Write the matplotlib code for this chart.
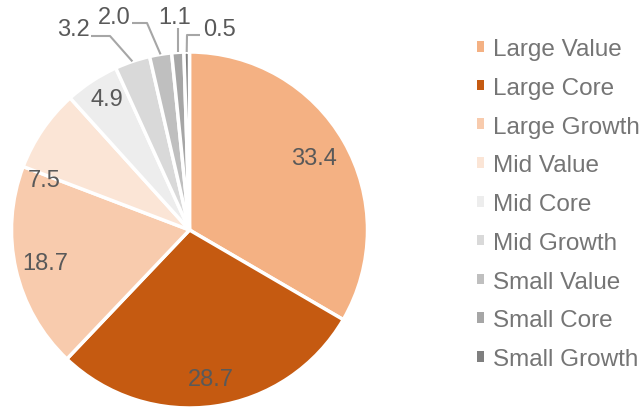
import numpy as np
import matplotlib.pyplot as plt
from matplotlib.patches import Patch

# data
categories = ['Large Value', 'Large Core', 'Large Growth', 'Mid Value', 'Mid Core',
              'Mid Growth', 'Small Value', 'Small Core', 'Small Growth']
values = [33.4, 28.7, 18.7, 7.5, 4.9, 3.2, 2.0, 1.1, 0.5]
colors = ['#F4B183', '#C55A11', '#F8CBAD', '#FBE5D6', '#EDEDED',
          '#D9D9D9', '#BFBFBF', '#A6A6A6', '#7F7F7F']

plt.rcParams['font.family'] = ['Liberation Sans', 'DejaVu Sans']

fig = plt.figure(figsize=(6.44, 4.10), dpi=100)
ax = fig.add_axes([0, 0, 1, 1])

cx, cy, R = 189.5, 179.0, 178.0
wedges, _ = ax.pie(values, colors=colors, startangle=90, counterclock=False,
                   center=(cx, cy), radius=R, frame=True,
                   wedgeprops=dict(edgecolor='white', linewidth=2.5))
ax.set_xlim(0, 644)
ax.set_ylim(0, 410)
ax.set_aspect('equal')
ax.axis('off')

# label placement: inside for big slices (radius fraction, angle shift)
inside = {0: (0.81, 0), 1: (0.845, 0), 2: (0.83, 0), 3: (0.86, 15.5), 4: (0.87, -1)}
# outside labels: (label x, label y, elbow x, elbow y) in axes units
outside = {5: (73, 380, 110, 373), 6: (114, 392, 147, 386),
           7: (175, 392, 179, 381), 8: (219, 380, 187, 374)}

for i, w in enumerate(wedges):
    mid = np.deg2rad((w.theta1 + w.theta2) / 2)
    txt = '%.1f' % values[i]
    if i in inside:
        f, da = inside[i]
        a = mid + np.deg2rad(da)
        ax.text(cx + f * R * np.cos(a), cy + f * R * np.sin(a), txt,
                ha='center', va='center', fontsize=17, color='#595959')
    else:
        lx, ly, ex, ey = outside[i]
        px, py = cx + R * np.cos(mid), cy + R * np.sin(mid)
        if i == 7:
            xs, ys = [px, px], [py, ey]
        else:
            xs = [px, ex, lx + (18 if lx < ex else -19)]
            ys = [py, ey, ey]
        ax.plot(xs, ys, color='#A6A6A6', lw=1.5, solid_capstyle='butt')
        ax.text(lx, ly, txt, ha='center', va='center', fontsize=17, color='#595959')

handles = [Patch(facecolor=c, edgecolor='none') for c in colors]
fig.legend(handles, categories, loc='upper left', bbox_to_anchor=(477 / 644, 1 - 39 / 410),
           frameon=False, fontsize=17.5, labelcolor='#757575',
           handlelength=0.3, handleheight=0.3, handletextpad=0.37, labelspacing=0.69,
           borderpad=0, borderaxespad=0)

plt.savefig('out.png', dpi=100)
